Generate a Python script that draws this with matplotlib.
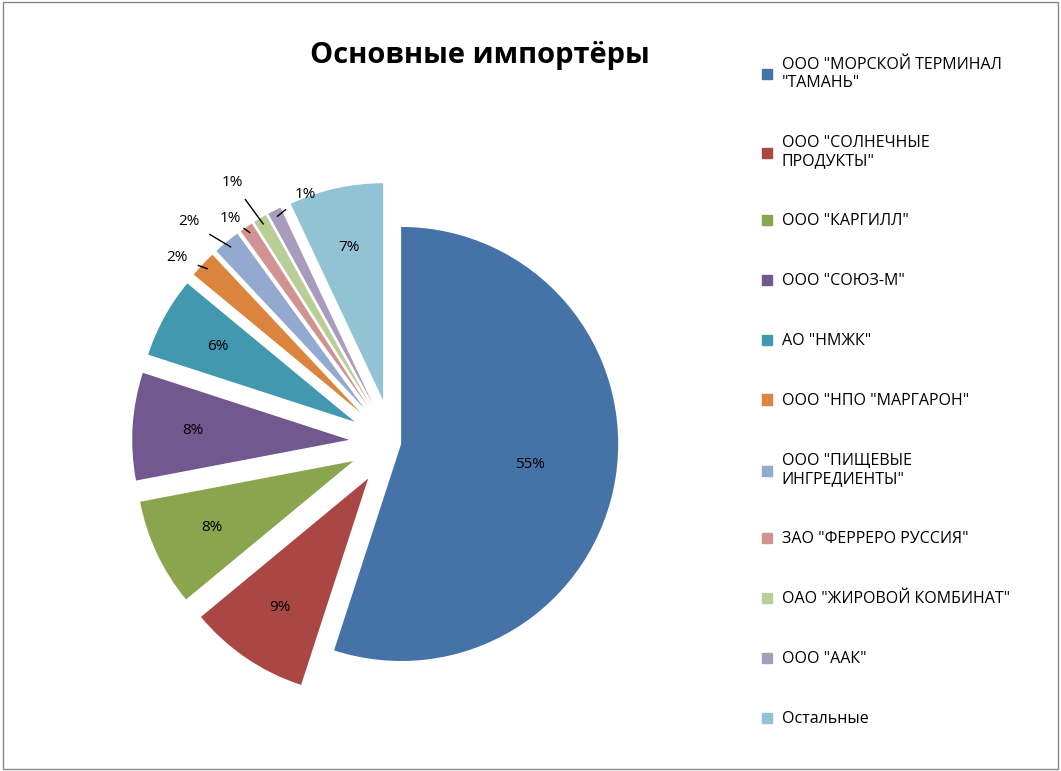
import numpy as np
import matplotlib.pyplot as plt
from matplotlib import rcParams
from matplotlib.patches import Rectangle

rcParams['font.family'] = 'sans-serif'
rcParams['font.sans-serif'] = ['Open Sans', 'Liberation Sans', 'DejaVu Sans']

labels = ['ООО "МОРСКОЙ ТЕРМИНАЛ\n"ТАМАНЬ"', 'ООО "СОЛНЕЧНЫЕ\nПРОДУКТЫ"', 'ООО "КАРГИЛЛ"',
          'ООО "СОЮЗ-М"', 'АО "НМЖК"', 'ООО "НПО "МАРГАРОН"', 'ООО "ПИЩЕВЫЕ\nИНГРЕДИЕНТЫ"',
          'ЗАО "ФЕРРЕРО РУССИЯ"', 'ОАО "ЖИРОВОЙ КОМБИНАТ"', 'ООО "ААК"', 'Остальные']
values = [55, 9, 8, 8, 6, 2, 2, 1, 1, 1, 7]
colors = ['#4572a7', '#aa4643', '#89a54e', '#71588f', '#4198af', '#db843d',
          '#93a9cf', '#d19392', '#b9cd96', '#a99bbd', '#92c3d4']

fig = plt.figure(figsize=(10.61, 7.71), dpi=100)
fig.patches.append(Rectangle((0.003, 0.003), 0.994, 0.994, transform=fig.transFigure,
                             fill=False, edgecolor='#888888', linewidth=1))
fig.text(0.452, 0.928, 'Основные импортёры', ha='center', va='center', fontsize=21, fontweight='bold')

ax = fig.add_axes([0.06, 0.06, 0.62, 0.76])
explode = [0.04] + [0.2] * (len(values) - 1)
wedges, _ = ax.pie(values, colors=colors, startangle=90, counterclock=False,
                   explode=explode, radius=1.0, wedgeprops=dict(linewidth=0))
ax.set_aspect('equal')
ax.set_xlim(-1.45, 1.45)
ax.set_ylim(-1.3, 1.4)

# label offsets (points) for the small outside labels
offsets = {5: (-22, 8), 6: (-30, 18), 7: (-14, 10), 8: (-22, 30), 9: (20, 16)}
for i, (w, v) in enumerate(zip(wedges, values)):
    ang = np.deg2rad((w.theta1 + w.theta2) / 2)
    cx, cy = w.center
    if v >= 6:
        r = 0.6 if v > 20 else 0.72
        ax.text(cx + r * np.cos(ang), cy + r * np.sin(ang), f'{v}%', ha='center', va='center', fontsize=11)
    else:
        px, py = cx + 0.97 * np.cos(ang), cy + 0.97 * np.sin(ang)
        ax.annotate(f'{v}%', xy=(px, py), xytext=offsets[i], textcoords='offset points',
                    ha='center', va='center', fontsize=11,
                    arrowprops=dict(arrowstyle='-', color='black', lw=1, shrinkA=6, shrinkB=0))

handles = [Rectangle((0, 0), 1, 1, color=c) for c in colors]
fig.legend(handles, labels, loc='upper left', bbox_to_anchor=(0.705, 0.945), frameon=False,
           fontsize=11.5, handlelength=0.6, handleheight=0.6, labelspacing=2.75, handletextpad=0.6)

fig.savefig('out.png', dpi=100)
